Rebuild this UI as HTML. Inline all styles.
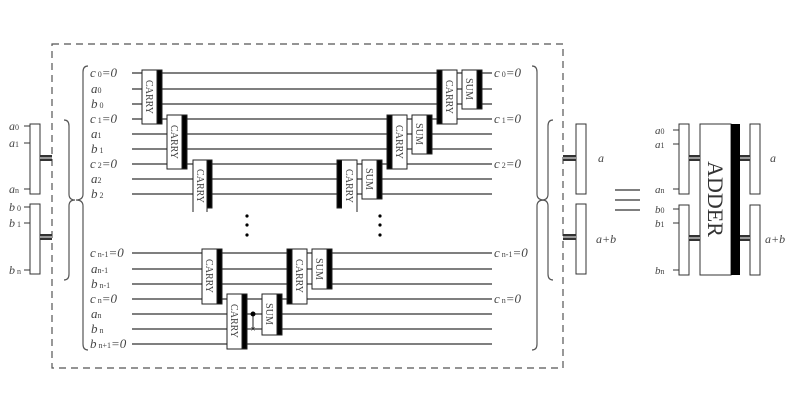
<!DOCTYPE html>
<html><head><meta charset="utf-8"><style>
html,body{margin:0;padding:0;background:#fff;}
svg{display:block;font-family:"Liberation Serif",serif;}
.w{stroke:#333;stroke-width:1.3;}
.l{font-size:12px;fill:#444;font-style:italic;}
.s{font-size:8px;font-style:normal;}
.g{font-size:10px;fill:#444;}
.L{font-size:13px;}
</style></head><body>
<svg width="800" height="413" viewBox="0 0 800 413" xmlns="http://www.w3.org/2000/svg">
<rect x="52" y="44" width="511" height="324" fill="none" stroke="#555" stroke-width="1.2" stroke-dasharray="7,5"/>
<g class="w">
<line x1="132" y1="73" x2="492" y2="73"/><line x1="132" y1="89" x2="492" y2="89"/><line x1="132" y1="104" x2="492" y2="104"/>
<line x1="132" y1="119" x2="492" y2="119"/><line x1="132" y1="134" x2="492" y2="134"/><line x1="132" y1="149" x2="492" y2="149"/>
<line x1="132" y1="164" x2="492" y2="164"/><line x1="132" y1="179" x2="492" y2="179"/><line x1="132" y1="194" x2="492" y2="194"/>
<line x1="132" y1="253" x2="492" y2="253"/><line x1="132" y1="269" x2="492" y2="269"/><line x1="132" y1="284" x2="492" y2="284"/>
<line x1="132" y1="299" x2="492" y2="299"/><line x1="132" y1="314" x2="492" y2="314"/><line x1="132" y1="329" x2="492" y2="329"/>
<line x1="132" y1="344" x2="492" y2="344"/>
</g>
<g stroke="#222" stroke-width="1">
<rect x="142" y="70" width="15" height="54" fill="#fff"/><rect x="157" y="70" width="5" height="54" fill="#000"/>
<rect x="167" y="115" width="15" height="54" fill="#fff"/><rect x="182" y="115" width="5" height="54" fill="#000"/>
<rect x="193" y="160" width="14" height="50" fill="#fff" stroke="none"/>
<path d="M193 212V160H207V212" fill="none"/><rect x="207" y="160" width="5" height="48" fill="#000"/>
<rect x="437" y="70" width="5" height="54" fill="#000"/><rect x="442" y="70" width="15" height="54" fill="#fff"/>
<rect x="462" y="70" width="15" height="39" fill="#fff"/><rect x="477" y="70" width="5" height="39" fill="#000"/>
<rect x="387" y="115" width="5" height="54" fill="#000"/><rect x="392" y="115" width="15" height="54" fill="#fff"/>
<rect x="412" y="115" width="15" height="39" fill="#fff"/><rect x="427" y="115" width="5" height="39" fill="#000"/>
<rect x="337" y="160" width="5" height="48" fill="#000"/>
<rect x="342" y="160" width="15" height="50" fill="#fff" stroke="none"/><path d="M342 160H357V212" fill="none"/>
<rect x="362" y="160" width="15" height="39" fill="#fff"/><rect x="377" y="160" width="5" height="39" fill="#000"/>
<rect x="202" y="249" width="15" height="55" fill="#fff"/><rect x="217" y="249" width="5" height="55" fill="#000"/>
<rect x="227" y="294" width="15" height="55" fill="#fff"/><rect x="242" y="294" width="5" height="55" fill="#000"/>
<rect x="262" y="294" width="15" height="41" fill="#fff"/><rect x="277" y="294" width="5" height="41" fill="#000"/>
<rect x="287" y="249" width="5" height="55" fill="#000"/><rect x="292" y="249" width="15" height="55" fill="#fff"/>
<rect x="312" y="249" width="15" height="40" fill="#fff"/><rect x="327" y="249" width="5" height="40" fill="#000"/>
</g>
<line x1="253" y1="314" x2="253" y2="329" stroke="#222" stroke-width="1"/>
<circle cx="253" cy="314" r="2.5" fill="#000"/>
<text x="253" y="332" font-size="9" text-anchor="middle" fill="#222">×</text>
<g class="g">
<text transform="translate(146,97) rotate(90)" text-anchor="middle">CARRY</text>
<text transform="translate(171,142) rotate(90)" text-anchor="middle">CARRY</text>
<text transform="translate(197,186) rotate(90)" text-anchor="middle">CARRY</text>
<text transform="translate(446,97) rotate(90)" text-anchor="middle">CARRY</text>
<text transform="translate(396,142) rotate(90)" text-anchor="middle">CARRY</text>
<text transform="translate(346,186) rotate(90)" text-anchor="middle">CARRY</text>
<text transform="translate(206,276) rotate(90)" text-anchor="middle">CARRY</text>
<text transform="translate(231,321) rotate(90)" text-anchor="middle">CARRY</text>
<text transform="translate(296,276) rotate(90)" text-anchor="middle">CARRY</text>
<text transform="translate(466,89) rotate(90)" text-anchor="middle">SUM</text>
<text transform="translate(416,134) rotate(90)" text-anchor="middle">SUM</text>
<text transform="translate(366,179) rotate(90)" text-anchor="middle">SUM</text>
<text transform="translate(316,269) rotate(90)" text-anchor="middle">SUM</text>
<text transform="translate(266,314) rotate(90)" text-anchor="middle">SUM</text>
</g>
<g fill="#000"><circle cx="247" cy="216" r="1.6"/><circle cx="247" cy="225" r="1.6"/><circle cx="247" cy="235" r="1.6"/>
<circle cx="380" cy="216" r="1.6"/><circle cx="380" cy="225" r="1.6"/><circle cx="380" cy="235" r="1.6"/></g>
<g class="l L">
<text x="90" y="77">c<tspan class="s"> 0</tspan>=0</text>
<text x="91" y="93">a<tspan class="s">0</tspan></text>
<text x="91" y="108">b<tspan class="s"> 0</tspan></text>
<text x="90" y="123">c<tspan class="s"> 1</tspan>=0</text>
<text x="91" y="138">a<tspan class="s">1</tspan></text>
<text x="91" y="153">b<tspan class="s"> 1</tspan></text>
<text x="90" y="168">c<tspan class="s"> 2</tspan>=0</text>
<text x="91" y="183">a<tspan class="s">2</tspan></text>
<text x="91" y="198">b<tspan class="s"> 2</tspan></text>
<text x="90" y="257">c<tspan class="s"> n-1</tspan>=0</text>
<text x="91" y="273">a<tspan class="s">n-1</tspan></text>
<text x="91" y="288">b<tspan class="s"> n-1</tspan></text>
<text x="90" y="303">c<tspan class="s"> n</tspan>=0</text>
<text x="91" y="318">a<tspan class="s">n</tspan></text>
<text x="91" y="333">b<tspan class="s"> n</tspan></text>
<text x="90" y="348">b<tspan class="s"> n+1</tspan>=0</text>
<text x="494" y="77">c<tspan class="s"> 0</tspan>=0</text>
<text x="494" y="123">c<tspan class="s"> 1</tspan>=0</text>
<text x="494" y="168">c<tspan class="s"> 2</tspan>=0</text>
<text x="494" y="257">c<tspan class="s"> n-1</tspan>=0</text>
<text x="494" y="303">c<tspan class="s"> n</tspan>=0</text>
</g>
<g fill="none" stroke="#555" stroke-width="1.2">
<path d="M88 66 Q83 66 83 72 V194 Q83 200 76 200 Q83 200 83 206 V344 Q83 350 88 350"/>
<path d="M64 120 Q69 120 69 126 V194 Q69 200 75 200 Q69 200 69 206 V274 Q69 280 64 280"/>
<path d="M532 66 Q537 66 537 72 V194 Q537 200 544 200 Q537 200 537 206 V344 Q537 350 532 350"/>
<path d="M553 120 Q548 120 548 126 V194 Q548 200 542 200 Q548 200 548 206 V274 Q548 280 553 280"/>
</g>
<g stroke="#333" stroke-width="1" fill="#fff">
<rect x="30" y="124" width="10" height="70"/><rect x="30" y="204" width="10" height="70"/>
<rect x="576" y="124" width="10" height="70"/><rect x="576" y="204" width="10" height="70"/>
<rect x="679" y="124" width="10" height="70"/><rect x="679" y="205" width="10" height="70"/>
<rect x="750" y="124" width="10" height="70"/><rect x="750" y="205" width="10" height="70"/>
<rect x="700" y="124" width="31" height="151"/>
</g>
<rect x="731" y="124" width="9" height="151" fill="#000"/>
<g stroke="#333" stroke-width="1">
<line x1="24" y1="126" x2="30" y2="126"/><line x1="24" y1="143" x2="30" y2="143"/><line x1="24" y1="189" x2="30" y2="189"/>
<line x1="24" y1="207" x2="30" y2="207"/><line x1="24" y1="223" x2="30" y2="223"/><line x1="24" y1="270" x2="30" y2="270"/>
<line x1="673" y1="130" x2="679" y2="130"/><line x1="673" y1="144" x2="679" y2="144"/><line x1="673" y1="189" x2="679" y2="189"/>
<line x1="673" y1="209" x2="679" y2="209"/><line x1="673" y1="223" x2="679" y2="223"/><line x1="673" y1="270" x2="679" y2="270"/>
</g>
<g fill="#333">
<rect x="40" y="155" width="12" height="6"/><rect x="40" y="234" width="12" height="6"/>
<rect x="563" y="155" width="13" height="6"/><rect x="563" y="234" width="13" height="6"/>
<rect x="689" y="155" width="11" height="6"/><rect x="689" y="235" width="11" height="6"/>
<rect x="740" y="155" width="10" height="6"/><rect x="740" y="235" width="10" height="6"/>
</g>
<g fill="#999"><rect x="40" y="157" width="12" height="2"/><rect x="40" y="236" width="12" height="2"/>
<rect x="563" y="157" width="13" height="2"/><rect x="563" y="236" width="13" height="2"/>
<rect x="689" y="157" width="11" height="2"/><rect x="689" y="237" width="11" height="2"/>
<rect x="740" y="157" width="10" height="2"/><rect x="740" y="237" width="10" height="2"/></g>
<g class="l">
<text x="9" y="130">a<tspan class="s">0</tspan></text>
<text x="9" y="147">a<tspan class="s">1</tspan></text>
<text x="9" y="193">a<tspan class="s">n</tspan></text>
<text x="9" y="211">b<tspan class="s"> 0</tspan></text>
<text x="9" y="227">b<tspan class="s"> 1</tspan></text>
<text x="9" y="274">b<tspan class="s"> n</tspan></text>
<text x="598" y="162">a</text>
<text x="596" y="243">a+b</text>
<text x="655" y="134" font-size="11">a<tspan class="s">0</tspan></text>
<text x="655" y="148" font-size="11">a<tspan class="s">1</tspan></text>
<text x="655" y="193" font-size="11">a<tspan class="s">n</tspan></text>
<text x="655" y="213" font-size="11">b<tspan class="s">0</tspan></text>
<text x="655" y="227" font-size="11">b<tspan class="s">1</tspan></text>
<text x="655" y="274" font-size="11">b<tspan class="s">n</tspan></text>
<text x="770" y="162">a</text>
<text x="765" y="243">a+b</text>
</g>
<g stroke="#555" stroke-width="1.5"><line x1="615" y1="190" x2="640" y2="190"/><line x1="615" y1="200" x2="640" y2="200"/><line x1="615" y1="210" x2="640" y2="210"/></g>
<text transform="translate(708,199) rotate(90)" text-anchor="middle" font-size="22" fill="#333">ADDER</text>
</svg>
</body></html>
